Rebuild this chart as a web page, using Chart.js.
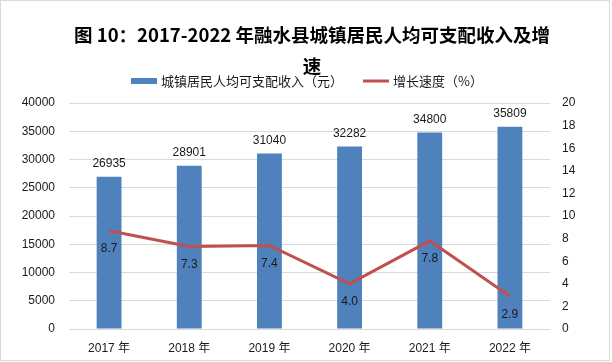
<!DOCTYPE html>
<html>
<head>
<meta charset="utf-8">
<script src="https://cdn.jsdelivr.net/npm/chart.js@4/dist/chart.umd.min.js"></script>
<style>
  html, body { margin: 0; padding: 0; background: #fff; }
  #wrap { width: 612px; height: 362px; }
</style>
</head>
<body>
<div id="wrap"><canvas id="chart" width="612" height="362"></canvas></div>
<script>
// 数据
const years = ["2017 年", "2018 年", "2019 年", "2020 年", "2021 年", "2022 年"];
const income = [26935, 28901, 31040, 32282, 34800, 35809];
const growth = [8.7, 7.3, 7.4, 4.0, 7.8, 2.9];
const titleLines = ["图 10：2017-2022 年融水县城镇居民人均可支配收入及增", "速"];
const incomeLabel = "城镇居民人均可支配收入（元）";
const growthLabel = "增长速度（%）";

const blue = "#4f81bd";
const red = "#c0504d";
const gridColor = "#d9d9d9";
const textColor = "#1a1a1a";
const fontFamily = "'Liberation Sans', 'Noto Sans CJK SC', sans-serif";

// 标题、图例和边框
const header = {
  id: "header",
  afterDraw(chart) {
    const ctx = chart.ctx;
    ctx.save();
    ctx.strokeStyle = gridColor;
    ctx.lineWidth = 1;
    ctx.strokeRect(0.5, 0.5, 609, 360);

    ctx.fillStyle = "#000";
    ctx.textAlign = "center";
    ctx.textBaseline = "middle";
    ctx.font = "bold 18.5px 'Noto Sans CJK SC'";
    titleLines.forEach((t, i) => ctx.fillText(t, 312, 35 + i * 31));

    // 图例
    ctx.font = "13px 'Noto Sans CJK SC'";
    const items = chart.data.datasets.map((ds) => ({
      text: ds.label,
      type: ds.type,
      color: ds.type === "line" ? ds.borderColor : ds.backgroundColor,
      w: ctx.measureText(ds.label).width,
    }));
    const swatch = 26, gap = 4, space = 20;
    let total = 0;
    items.forEach((it, i) => { total += swatch + gap + it.w + (i ? space : 0); });
    let x = 307 - total / 2;
    const y = 81;
    ctx.textAlign = "left";
    items.forEach((it) => {
      if (it.type === "line") {
        ctx.strokeStyle = it.color;
        ctx.lineWidth = 3;
        ctx.beginPath();
        ctx.moveTo(x, y);
        ctx.lineTo(x + swatch, y);
        ctx.stroke();
      } else {
        ctx.fillStyle = it.color;
        ctx.fillRect(x, y - 3, swatch, 6);
      }
      ctx.fillStyle = textColor;
      ctx.fillText(it.text, x + swatch + gap, y);
      x += swatch + gap + it.w + space;
    });
    ctx.restore();
  },
};

// 数据标签
const valueLabels = {
  id: "valueLabels",
  afterDatasetsDraw(chart) {
    const ctx = chart.ctx;
    ctx.save();
    ctx.fillStyle = textColor;
    ctx.font = "12px " + fontFamily;
    ctx.textAlign = "center";
    ctx.textBaseline = "middle";
    chart.data.datasets.forEach((ds, di) => {
      const meta = chart.getDatasetMeta(di);
      meta.data.forEach((el, i) => {
        if (ds.type === "line") {
          ctx.fillText(ds.data[i].toFixed(1), el.x, el.y + 18);
        } else {
          ctx.fillText(String(ds.data[i]), el.x, el.y - 13);
        }
      });
    });
    ctx.restore();
  },
};

const ctx = document.getElementById("chart").getContext("2d");
const chart = new Chart(ctx, {
  data: {
    labels: years,
    datasets: [
      {
        type: "bar",
        label: incomeLabel,
        data: income,
        backgroundColor: blue,
        yAxisID: "y",
        barPercentage: 0.31,
        categoryPercentage: 1,
        order: 1,
      },
      {
        type: "line",
        label: growthLabel,
        data: growth,
        borderColor: red,
        backgroundColor: red,
        borderWidth: 3,
        pointRadius: 0,
        tension: 0,
        yAxisID: "y1",
        order: 0,
      },
    ],
  },
  options: {
    responsive: false,
    animation: false,
    devicePixelRatio: 1,
    layout: { padding: { left: 22, right: 12, top: 103, bottom: 6 } },
    plugins: {
      legend: { display: false },
      title: { display: false },
      tooltip: { enabled: false },
    },
    scales: {
      x: {
        grid: { display: false, drawTicks: false },
        border: { display: false },
        ticks: { color: textColor, padding: 12, font: { size: 12, family: fontFamily } },
        afterFit: (s) => { s.height = 27; },
      },
      y: {
        position: "left",
        min: 0,
        max: 40000,
        ticks: {
          stepSize: 5000,
          color: textColor,
          padding: 14,
          font: { size: 12, family: fontFamily },
          callback: (v) => String(v),
        },
        grid: { color: gridColor, lineWidth: 1, drawTicks: false },
        border: { display: false },
        afterFit: (s) => { s.width = 47; },
      },
      y1: {
        position: "right",
        min: 0,
        max: 20,
        ticks: { stepSize: 2, color: textColor, padding: 12, font: { size: 12, family: fontFamily } },
        grid: { drawOnChartArea: false, drawTicks: false },
        border: { display: false },
        afterFit: (s) => { s.width = 50; },
      },
    },
  },
  plugins: [header, valueLabels],
});
</script>
</body>
</html>
